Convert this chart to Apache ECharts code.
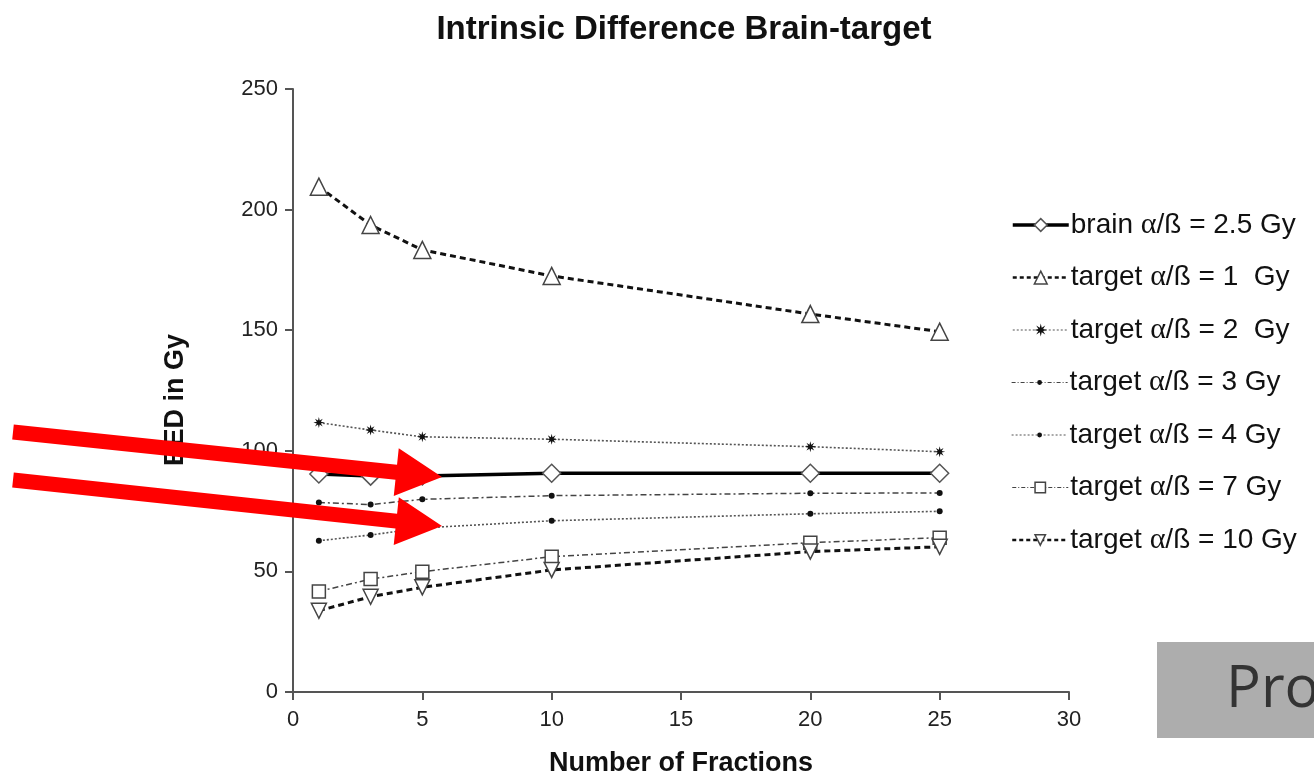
<!DOCTYPE html>
<html>
<head>
<meta charset="utf-8">
<script src="https://cdn.jsdelivr.net/npm/echarts@6/dist/echarts.min.js"></script>
<style>html,body{margin:0;padding:0;background:#fff;}#c{width:1314px;height:778px;}</style>
</head>
<body>
<div id="c"></div>
<script>
// ---- data ----
const fractions = [1, 3, 5, 10, 20, 25];
const brain25 = [90.4, 89.5, 89.6, 90.7, 90.7, 90.7];
const target1 = [209.5, 193.6, 183.3, 172.5, 156.7, 149.4];
const target2 = [111.7, 108.6, 105.8, 104.8, 101.7, 99.6];
const target3 = [78.6, 77.7, 79.9, 81.4, 82.4, 82.5];
const target4 = [62.7, 65.1, 68.0, 71.0, 73.9, 74.9];
const target7 = [41.7, 46.8, 49.9, 56.1, 61.9, 64.0];
const target10 = [33.7, 39.5, 43.4, 50.6, 58.2, 60.2];
const seriesNames = [
  'brain α/ß = 2.5 Gy',
  'target α/ß = 1  Gy',
  'target α/ß = 2  Gy',
  'target α/ß = 3 Gy',
  'target α/ß = 4 Gy',
  'target α/ß = 7 Gy',
  'target α/ß = 10 Gy'
];
const xTicks = [0, 5, 10, 15, 20, 25, 30];
const yTicks = [0, 50, 100, 150, 200, 250];
const titleText = 'Intrinsic Difference Brain-target';
const xName = 'Number of Fractions';
const yName = 'BED in Gy';
const overlayText = 'Pro';

// ---- helpers ----
function pairs(ys) { return fractions.map((x, i) => [x, ys[i]]); }
function starPath() {
  let pts = [];
  for (let i = 0; i < 16; i++) {
    const r = (i % 2) ? 4 : 10;
    const a = i * Math.PI / 8 - Math.PI / 2;
    pts.push((10 + r * Math.cos(a)).toFixed(2) + ' ' + (10 + r * Math.sin(a)).toFixed(2));
  }
  return 'path://M' + pts.join(' L') + ' Z';
}
const FONT = '"Liberation Sans", Arial, sans-serif';

const chart = echarts.init(document.getElementById('c'));

const styles = [
  { data: brain25, symbol: 'diamond', size: 18, line: { color: '#000', width: 3.5, type: 'solid' },
    item: { color: '#fff', borderColor: '#555', borderWidth: 1.5 } },
  { data: target1, symbol: 'triangle', size: 17, line: { color: '#111', width: 3, type: [6, 4] },
    item: { color: '#fff', borderColor: '#444', borderWidth: 1.5 } },
  { data: target2, symbol: starPath(), size: 11, line: { color: '#555', width: 1.6, type: [2, 2] },
    item: { color: '#111', borderColor: '#111', borderWidth: 0 } },
  { data: target3, symbol: 'circle', size: 6, line: { color: '#444', width: 1.5, type: [6, 3, 2, 3] },
    item: { color: '#111', borderColor: '#111', borderWidth: 0 } },
  { data: target4, symbol: 'circle', size: 6, line: { color: '#555', width: 1.6, type: [2, 2] },
    item: { color: '#111', borderColor: '#111', borderWidth: 0 } },
  { data: target7, symbol: 'rect', size: 13, line: { color: '#444', width: 1.5, type: [6, 3, 2, 3] },
    item: { color: '#fff', borderColor: '#444', borderWidth: 1.5 } },
  { data: target10, symbol: 'triangle', rotate: 180, size: 15, line: { color: '#111', width: 3, type: [6, 4] },
    item: { color: '#fff', borderColor: '#444', borderWidth: 1.5 } }
];
const legendLine = [
  { color: '#000', width: 3.5, type: 'solid' },
  { color: '#111', width: 2.5, type: [4, 3] },
  { color: '#555', width: 1.2, type: [2, 2] },
  { color: '#444', width: 1.2, type: [4, 2, 1, 2] },
  { color: '#555', width: 1.2, type: [2, 2] },
  { color: '#444', width: 1.2, type: [4, 2, 1, 2] },
  { color: '#111', width: 2.5, type: [4, 3] }
];

const series = styles.map((s, i) => ({
  name: seriesNames[i],
  type: 'line',
  data: pairs(s.data),
  symbol: s.symbol,
  symbolSize: s.size,
  symbolRotate: s.rotate || 0,
  showAllSymbol: true,
  lineStyle: s.line,
  itemStyle: s.item,
  color: s.line.color,
  z: 2 + (i === 0 ? 5 : 0),
  animation: false
}));

function arrow(x0, y0, x1, y1, shaft, headW, headL) {
  const dx = x1 - x0, dy = y1 - y0, L = Math.hypot(dx, dy);
  const ux = dx / L, uy = dy / L, nx = -uy, ny = ux;
  const bx = x1 - ux * headL, by = y1 - uy * headL;
  const h = shaft / 2, w = headW / 2;
  return [
    [x0 + nx * h, y0 + ny * h], [bx + nx * h, by + ny * h], [bx + nx * w, by + ny * w],
    [x1, y1], [bx - nx * w, by - ny * w], [bx - nx * h, by - ny * h], [x0 - nx * h, y0 - ny * h]
  ];
}

const ROW = 52.5;
function legendBlock(from, to, top, itemH) {
  const data = [];
  for (let i = from; i < to; i++) {
    data.push({ name: seriesNames[i], lineStyle: legendLine[i], itemStyle: styles[i].item });
  }
  return {
    orient: 'vertical', left: 1006, top: top,
    itemWidth: 56, itemHeight: itemH, itemGap: ROW - 30,
    textStyle: {
      fontFamily: FONT, fontSize: 28, color: '#111', lineHeight: 30, padding: [0, 0, 0, -3],
      rich: { a: { fontFamily: '"Liberation Serif", "DejaVu Serif", serif', fontSize: 30, color: '#111', lineHeight: 30 } }
    },
    formatter: n => n.replace('α', '{a|α}'),
    data: data
  };
}

const option = {
  backgroundColor: '#fff',
  animation: false,
  title: {
    text: titleText, left: 679, top: 8, textAlign: 'center',
    textStyle: { fontFamily: FONT, fontSize: 33, fontWeight: 'bold', color: '#111' }
  },
  grid: { left: 293, right: 245, top: 89, bottom: 86, containLabel: false, outerBoundsMode: 'none' },
  legend: [
    legendBlock(0, 3, 205, 16),
    legendBlock(3, 5, 205 + ROW * 3, 6),
    legendBlock(5, 7, 205 + ROW * 5, 13)
  ],
  xAxis: {
    type: 'value', min: 0, max: 30, interval: 5,
    name: xName, nameLocation: 'middle', nameGap: 58,
    nameTextStyle: { fontFamily: FONT, fontSize: 27, fontWeight: 'bold', color: '#111' },
    axisLine: { show: true, onZero: false, lineStyle: { color: '#555', width: 2 } },
    axisTick: { show: true, length: 8, lineStyle: { color: '#555', width: 2 } },
    axisLabel: { fontFamily: FONT, fontSize: 22, color: '#222', margin: 17,
      formatter: v => xTicks.indexOf(v) >= 0 ? String(v) : '' },
    splitLine: { show: false }
  },
  yAxis: {
    type: 'value', min: 0, max: 250, interval: 50,
    axisLine: { show: true, lineStyle: { color: '#555', width: 2 } },
    axisTick: { show: true, length: 8, lineStyle: { color: '#555', width: 2 } },
    axisLabel: { fontFamily: FONT, fontSize: 22, color: '#222', margin: 15,
      formatter: v => yTicks.indexOf(v) >= 0 ? String(v) : '' },
    splitLine: { show: false }
  },
  series: series,
  graphic: [
    { type: 'text', z: 50, x: 176, y: 400, rotation: Math.PI / 2,
      style: { text: yName, fontFamily: FONT, fontSize: 27, fontWeight: 'bold', fill: '#111',
        align: 'center', verticalAlign: 'middle' } },
    { type: 'polygon', z: 100, shape: { points: arrow(13, 432, 442, 477, 15, 48, 46) }, style: { fill: '#ff0000' } },
    { type: 'polygon', z: 100, shape: { points: arrow(13, 480, 442, 526, 15, 48, 46) }, style: { fill: '#ff0000' } },
    { type: 'rect', z: 100, shape: { x: 1157, y: 642, width: 170, height: 96 }, style: { fill: '#adadad' } },
    { type: 'text', z: 101, x: 1226, y: 690, style: { text: overlayText, fontFamily: '"Open Sans", sans-serif',
      fontSize: 58, fill: '#333', verticalAlign: 'middle', align: 'left' } }
  ]
};
chart.setOption(option);
</script>
</body>
</html>
